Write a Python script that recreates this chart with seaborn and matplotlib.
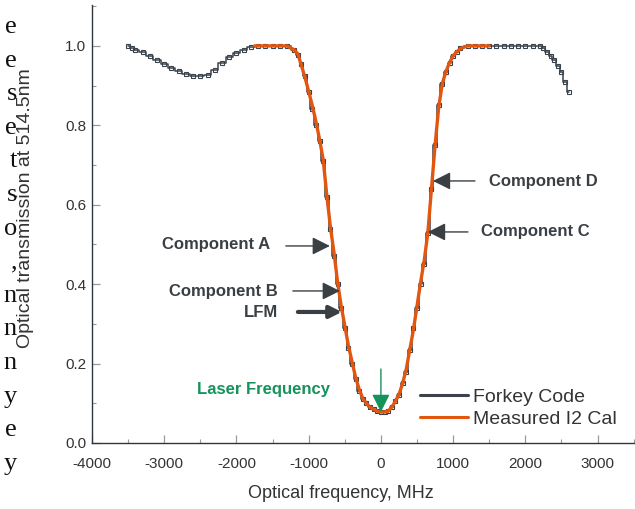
import matplotlib
matplotlib.use("Agg")
import matplotlib.pyplot as plt
import seaborn as sns
import pandas as pd
from matplotlib.ticker import MultipleLocator

# ---------------- data ----------------
forkey_x = [-3500, -3450, -3400, -3300, -3200, -3100, -3000, -2900, -2800, -2700,
            -2600, -2500, -2400, -2300, -2200, -2100, -2000, -1900, -1800, -1700,
            -1600, -1500, -1400, -1300, -1200, -1150, -1100, -1050, -1000, -950,
            -900, -850, -800, -750, -700, -650, -600, -550, -500, -450,
            -400, -350, -300, -250, -200, -150, -100, -50, 0, 50,
            100, 150, 200, 250, 300, 350, 400, 450, 500, 550,
            600, 650, 700, 750, 800, 850, 900, 950, 1000, 1050,
            1100, 1200, 1300, 1400, 1500, 1600, 1700, 1800, 1900, 2000,
            2100, 2200, 2250, 2300, 2350, 2400, 2450, 2500, 2550, 2600]
forkey_y = [1.0, 0.995, 0.99, 0.985, 0.975, 0.965, 0.955, 0.945, 0.938, 0.93,
            0.925, 0.925, 0.926, 0.94, 0.958, 0.972, 0.982, 0.99, 0.996, 1.0,
            1.0, 1.0, 1.0, 1.0, 0.99, 0.978, 0.955, 0.925, 0.885, 0.84,
            0.80, 0.76, 0.71, 0.62, 0.54, 0.47, 0.40, 0.34, 0.29, 0.24,
            0.20, 0.16, 0.13, 0.11, 0.10, 0.09, 0.085, 0.08, 0.078, 0.078,
            0.08, 0.09, 0.105, 0.12, 0.15, 0.18, 0.235, 0.29, 0.34, 0.40,
            0.45, 0.53, 0.64, 0.75, 0.85, 0.905, 0.935, 0.958, 0.975, 0.985,
            0.995, 1.0, 1.0, 1.0, 1.0, 1.0, 1.0, 1.0, 1.0, 1.0,
            1.0, 1.0, 0.995, 0.985, 0.975, 0.965, 0.95, 0.935, 0.91, 0.885]

meas_x = [-1750, -1600, -1450, -1300, -1250, -1200, -1150, -1100, -1050, -1000,
          -950, -900, -850, -800, -750, -700, -650, -600, -550, -500,
          -450, -400, -350, -300, -250, -200, -150, -100, -50, 0,
          50, 100, 150, 200, 250, 300, 350, 400, 450, 500,
          550, 600, 650, 700, 750, 800, 850, 900, 950, 1000,
          1050, 1100, 1150, 1200, 1300, 1400, 1500]
meas_y = [1.0, 1.0, 1.0, 1.0, 0.995, 0.99, 0.98, 0.95, 0.92, 0.885,
          0.85, 0.81, 0.765, 0.715, 0.625, 0.545, 0.48, 0.405, 0.345, 0.295,
          0.245, 0.205, 0.165, 0.135, 0.112, 0.10, 0.09, 0.085, 0.08, 0.078,
          0.078, 0.08, 0.09, 0.105, 0.122, 0.15, 0.185, 0.235, 0.285, 0.345,
          0.405, 0.46, 0.53, 0.64, 0.75, 0.845, 0.905, 0.935, 0.958, 0.975,
          0.985, 0.993, 0.997, 1.0, 1.0, 1.0, 1.0]

series_names = ["Forkey Code", "Measured I2 Cal"]
annotations = ["Component A", "Component B", "LFM", "Component D", "Component C"]
laser_label = "Laser Frequency"
x_ticks = [-4000, -3000, -2000, -1000, 0, 1000, 2000, 3000]
y_ticks = [0.0, 0.2, 0.4, 0.6, 0.8, 1.0]
margin_letters = ["e", "e", "s", "e", "t", "s", "o", ",", "n", "n", "n", "y", "e", "y"]

# ---------------- style ----------------
sns.set_theme(style="ticks")
plt.rcParams["font.family"] = ["Liberation Sans", "DejaVu Sans"]

dark = "#3a434b"
orange = "#e2560f"
green = "#14935a"

fig = plt.figure(figsize=(6.35, 5.09), dpi=100)
ax = fig.add_axes([92 / 635, 66 / 509, 543 / 635, 438 / 509])

df_f = pd.DataFrame({"x": forkey_x, "y": forkey_y})
df_m = pd.DataFrame({"x": meas_x, "y": meas_y})

sns.lineplot(data=df_f, x="x", y="y", ax=ax, color=dark, lw=1.1,
             drawstyle="steps-mid", marker="s", markersize=3.2,
             markerfacecolor="none", markeredgecolor=dark, markeredgewidth=0.8,
             label=series_names[0], zorder=3)
sns.lineplot(data=df_m, x="x", y="y", ax=ax, color=orange, lw=2.4,
             label=series_names[1], zorder=4)

ax.set_xlim(-4000, 3518)
ax.set_ylim(0, 1.103)
ax.set_xticks(x_ticks)
ax.set_yticks(y_ticks)
ax.set_xticklabels([str(v) for v in x_ticks])
ax.set_yticklabels([f"{v:.1f}" for v in y_ticks])
ax.xaxis.set_minor_locator(MultipleLocator(500))
ax.yaxis.set_minor_locator(MultipleLocator(0.1))
ax.tick_params(which="major", direction="in", length=6, width=0.9, color="#999999",
               labelsize=11, labelcolor="#333333", pad=4)
ax.tick_params(axis="x", which="major", pad=10)
ax.tick_params(which="minor", direction="in", length=3, width=0.8, color="#999999")
for s in ["top", "right"]:
    ax.spines[s].set_visible(False)
for s in ["left", "bottom"]:
    ax.spines[s].set_color("#2f363c")
    ax.spines[s].set_linewidth(1.0)
ax.set_xlabel("")
ax.set_ylabel("")

fig.text(341 / 635, 1 - 493 / 509, "Optical frequency, MHz", ha="center", va="center",
         fontsize=13, color="#333333")
fig.text(26 / 635, 1 - 208 / 509, "Optical transmission at 514.5nm", ha="center",
         va="center", rotation=90, fontsize=14, color="#333333")

leg = ax.legend(loc="center left",
                bbox_to_anchor=((420 - 92) / 543, (443 - 408) / 438),
                frameon=False, fontsize=14, handlelength=2.45, handletextpad=0.3,
                labelspacing=0.2, borderpad=0, borderaxespad=0, labelcolor="#333333")
for h in leg.get_lines():
    h.set_marker("")
    h.set_linewidth(2.2)
    h.set_drawstyle("default")

# annotations
tfont = dict(fontsize=12, fontweight="bold", color="#3a3f44")
def px2d(px, py):
    return ((px - 381) / 72.2 * 1000, (443 - py) / 397)

def ann(text, tip, tail, txt, ha, lw=1.0, hw=0.45, hl=0.9):
    ax.annotate("", xy=px2d(*tip), xytext=px2d(*tail),
                arrowprops=dict(arrowstyle=f"-|>,head_width={hw},head_length={hl}",
                                color="#3a3f44", lw=lw, shrinkA=0, shrinkB=0), zorder=6)
    ax.text(*px2d(*txt), text, ha=ha, va="center", **tfont)

ann(annotations[0], (330, 246), (286, 246), (270, 245), "right")
ann(annotations[1], (340, 291), (293, 291), (278, 292), "right")
ann(annotations[2], (342, 312), (298, 312), (278, 313), "right", lw=3.0, hw=0.3, hl=0.6)
ann(annotations[3], (433, 181), (475, 181), (489, 182), "left")
ann(annotations[4], (428, 232), (468, 232), (481, 232), "left")

ax.annotate("", xy=px2d(381, 412), xytext=px2d(381, 369),
            arrowprops=dict(arrowstyle="-|>,head_width=0.45,head_length=0.9",
                            color=green, lw=1.0, shrinkA=0, shrinkB=0), zorder=6)
ax.text(*px2d(330, 390), laser_label, ha="right", va="center", fontsize=12,
        fontweight="bold", color=green)

# clipped page text at the left margin
for i, ch in enumerate(margin_letters):
    fig.text(17 / 635, 1 - (27 + i * 33.6) / 509, ch, ha="right", va="center",
             fontsize=19, family="Liberation Serif", color="#111111")

fig.savefig("out.png", dpi=100)
